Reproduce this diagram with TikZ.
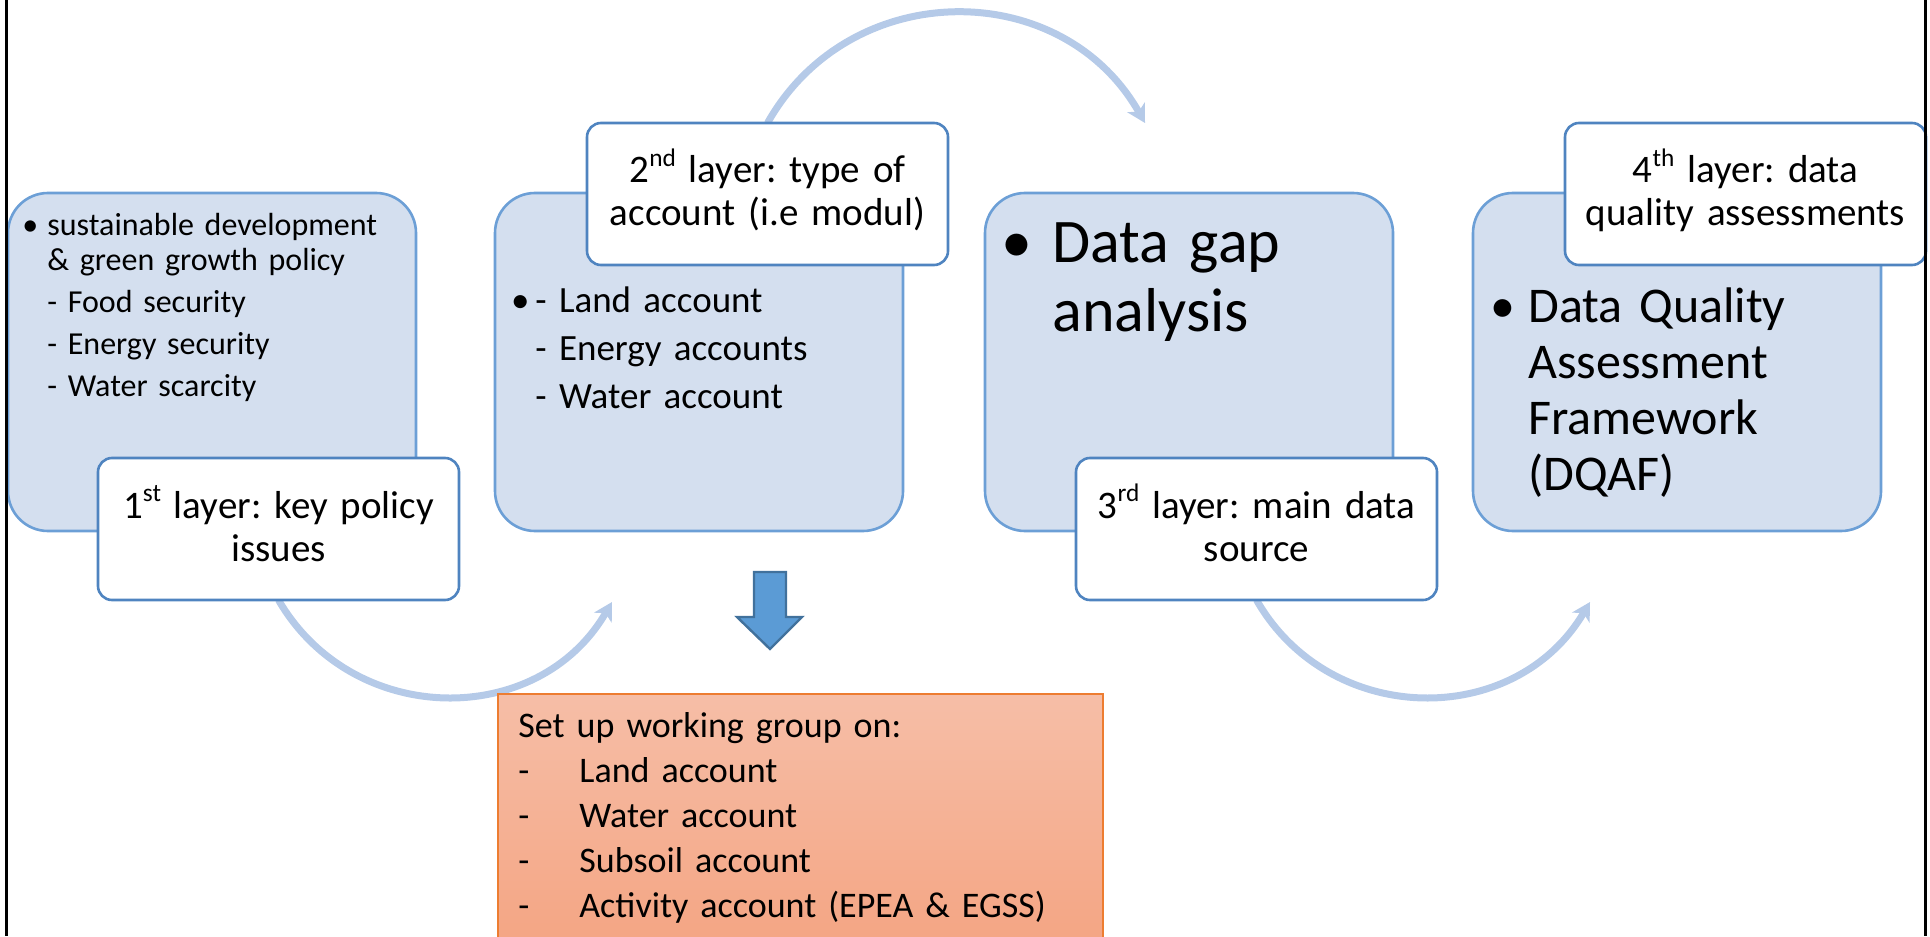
\documentclass[tikz,border=0pt]{standalone}
\usepackage{fontspec}
\usepackage{graphicx}
\setmainfont{Carlito}
\usetikzlibrary{arrows.meta}
\pgfdeclarelayer{background}
\pgfsetlayers{background,main}

\definecolor{boxfill}{HTML}{D4DFEF}
\definecolor{boxline}{HTML}{6C9FD6}
\definecolor{tagline}{HTML}{4F84C0}
\definecolor{flow}{HTML}{B5CAE8}
\definecolor{orangeline}{HTML}{ED7D31}
\definecolor{orangetop}{HTML}{F6BEA7}
\definecolor{orangebot}{HTML}{F4A482}
\definecolor{arrowfill}{HTML}{5B9BD5}
\definecolor{arrowline}{HTML}{41719C}

\newcommand\fsz[2]{\fontsize{#1}{#2}\selectfont}
\newcommand\ordinal[1]{\raisebox{0.42em}{\scalebox{0.65}{#1}}}
\newcommand\bul[1]{\llap{\textbullet\hspace{#1}}}
\frenchspacing

\begin{document}
\begin{tikzpicture}[x=0.5pt, y=-0.5pt,
  panel/.style={draw=boxline, line width=1.3pt, fill=boxfill, rounded corners=20pt,
    minimum width=204pt, minimum height=169pt, anchor=north west,
    inner sep=0pt, outer sep=0pt},
  tag/.style={draw=tagline, line width=1.3pt, fill=white, rounded corners=7pt,
    minimum width=180.5pt, minimum height=71pt, anchor=north west,
    inner sep=0pt, outer sep=0pt},
  tagtext/.style={anchor=base, text width=178pt, align=center, inner sep=0pt,
    font=\fsz{19.5}{21.5}},
  bodytext/.style={anchor=base west, text width=#1, align=left, inner sep=0pt},
  flowarc/.style={draw=flow, line width=3.5pt,
    -{Stealth[length=9pt, width=10pt, inset=2.5pt]}},
  taskbox/.style={draw=orangeline, line width=1.2pt, top color=orangetop,
    bottom color=orangebot, minimum width=302.5pt, minimum height=130pt,
    anchor=north west, inner sep=0pt},
  downarrow/.style={fill=arrowfill, draw=arrowline, line width=1.2pt, line join=miter},
  frame/.style={draw=black, line width=1.5pt}
]
\useasboundingbox (0,0) rectangle (1930,936);

% the four layer panels
\node[panel] (p1) at (8,193) {};
\node[panel] (p2) at (495,193) {};
\node[panel] (p3) at (985,193) {};
\node[panel] (p4) at (1473,193) {};

% panel contents
\node[bodytext=185pt, font=\fsz{16}{17.5}] (p1text) at (47,235)
  {\bul{4.5pt}sustainable development\\
   \&~green growth policy\\[3.5pt]
   - Food security\\[3.5pt]
   - Energy security\\[3.5pt]
   - Water scarcity};
\node[bodytext=185pt, font=\fsz{18.5}{24}] (p2text) at (535,312)
  {\bul{2.9pt}- Land account\\
   - Energy accounts\\
   - Water account};
\node[bodytext=175pt, font=\fsz{31}{34.5}] (p3text) at (1052,263)
  {\bul{9.8pt}Data gap\\
   analysis};
\node[bodytext=170pt, font=\fsz{25}{28}] (p4text) at (1528,322)
  {\bul{6.3pt}Data Quality\\
   Assessment\\
   Framework\\
   (DQAF)};

% layer tags
\node[tag] (t1) at (98,458) {};
\node[tag] (t2) at (587,123) {};
\node[tag] (t3) at (1076,458) {};
\node[tag] (t4) at (1565,123) {};

\node[tagtext] (t1text) at (t1.north |- 0,518)
  {1\ordinal{st} layer: key policy\\ issues};
\node[tagtext] (t2text) at (t2.north |- 0,183)
  {2\ordinal{nd} layer: type of\\ account (i.e modul)};
\node[tagtext] (t3text) at (t3.north |- 0,518)
  {3\ordinal{rd} layer: main data\\ source};
\node[tagtext] (t4text) at (t4.north |- 0,183)
  {4\ordinal{th} layer: data\\ quality assessments};

% follow-up task
\begin{scope}
  \clip (0,0) rectangle (1930,936);
  \node[taskbox] (task) at (497,693) {};
\end{scope}
\node[bodytext=290pt, font=\fsz{18}{22.5}] (tasktext) at (518,737)
  {Set up working group on:\\
   \makebox[30.5pt][l]{-}Land account\\
   \makebox[30.5pt][l]{-}Water account\\
   \makebox[30.5pt][l]{-}Subsoil account\\
   \makebox[30.5pt][l]{-}Activity account (EPEA \& EGSS)};

% block arrow pointing to the task box
\draw[downarrow] (754,572) -- (786,572) -- (786,617) -- (802,617) -- (770,649)
  -- (737,617) -- (754,617) -- cycle;

% flow between the layers
\coordinate (e1) at (612,602);
\coordinate (e2) at (1145,123);
\coordinate (e3) at (1590,602);
\begin{pgfonlayer}{background}
  \draw[flowarc] (t1.south) .. controls (352.5,727.5) and (538,729.5) .. (e1);
  \draw[flowarc] (t2.north) .. controls (850,-23.6) and (1062,-23.6) .. (e2);
  \draw[flowarc] (t3.south) .. controls (1329.5,727.5) and (1515,729.5) .. (e3);
\end{pgfonlayer}

% side rules
\draw[frame] (6,0) -- (6,936);
\draw[frame] (1925,0) -- (1925,936);
\end{tikzpicture}
\end{document}
